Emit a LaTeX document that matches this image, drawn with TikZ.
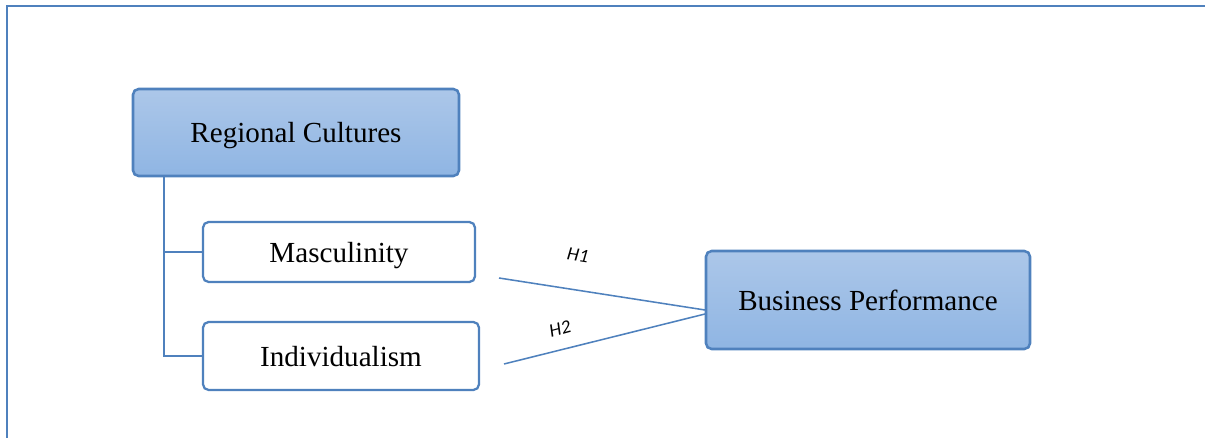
\documentclass[tikz,border=0pt]{standalone}
\usepackage{fontspec}
\setmainfont{Liberation Serif}
\newfontfamily\hlabelfont{Carlito}
\usepackage{tikz}
\usepackage{xcolor}
\usetikzlibrary{positioning}

\definecolor{frameblue}{RGB}{79,129,189}
\definecolor{boxtop}{RGB}{172,199,233}
\definecolor{boxbottom}{RGB}{143,181,227}

\begin{document}
\begin{tikzpicture}[
    x=0.025cm, y=-0.025cm,
    box/.style={draw=frameblue, line width=1.8pt, rounded corners=4pt, align=center, font=\fontsize{20.7}{25}\selectfont, inner sep=0pt, text depth=0pt},
    dimbox/.style={box, top color=boxtop, bottom color=boxbottom},
    plainbox/.style={box, fill=white, line width=1.6pt},
    link/.style={frameblue, line width=1.1pt},
    hyp/.style={font=\hlabelfont\itshape\fontsize{13.5}{15}\selectfont}
]
\useasboundingbox (0,0) rectangle (1205,438);

% Outer frame
\draw[frameblue, line width=1.8pt] (7,442) -- (7,6) -- (1209,6);

% Left column
\node[dimbox, minimum width=326*0.025cm, minimum height=87*0.025cm] (cultures) at (296,132.5) {Regional Cultures};
\node[plainbox, minimum width=272*0.025cm, minimum height=60*0.025cm] (masc) at (339,252) {Masculinity};
\node[plainbox, minimum width=276*0.025cm, minimum height=68*0.025cm] (indiv) at (341,356) {Individualism};

% Right box
\node[dimbox, minimum width=324*0.025cm, minimum height=98*0.025cm] (perf) at (868,300) {Business Performance};

% Tree from cultures to dimensions
\coordinate (trunk) at (164,176);
\draw[link] (trunk) |- (masc.west);
\draw[link] (trunk) |- (indiv.west);

% Hypothesis lines
\coordinate (h1start) at (499,278);
\coordinate (h2start) at (504,364);
\coordinate (h1end) at (705,310);
\coordinate (h2end) at (705,314);
\draw[link] (h1start) -- (h1end);
\draw[link] (h2start) -- (h2end);

% Labels
\node[hyp, rotate=-9] (h1) at (578,255) {H1};
\node[hyp, rotate=15] (h2) at (560,329) {H2};
\end{tikzpicture}
\end{document}
